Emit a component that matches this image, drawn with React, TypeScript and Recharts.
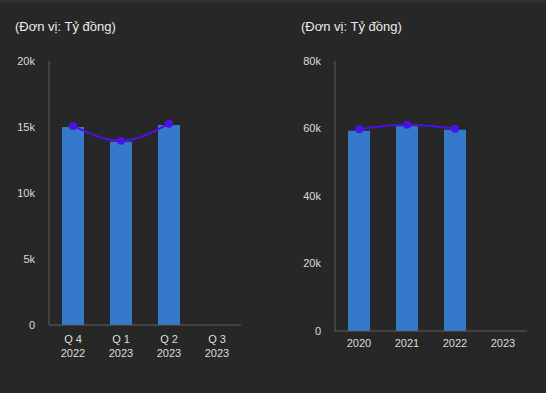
import { Bar, ComposedChart, Line, XAxis, YAxis } from 'recharts';

const quarters = ['Q 4 2022', 'Q 1 2023', 'Q 2 2023', 'Q 3 2023'];
const quarterBars = [15000, 13880, 15150, null];
const quarterLine = [15080, 13950, 15250, null];
const quarterTicks = [0, 5000, 10000, 15000, 20000];

const years = ['2020', '2021', '2022', '2023'];
const yearBars = [59300, 60700, 59600, null];
const yearLine = [59800, 61100, 59900, null];
const yearTicks = [0, 20000, 40000, 60000, 80000];

const unitTitle = '(Đơn vị: Tỷ đồng)';

const BAR = '#3579cd';
const LINE = '#4b12e3';
const AXIS = '#5f5f5f';
const TEXT = '#dcdcdc';
const FONT = '"Liberation Sans", Arial, sans-serif';

const quarterData = quarters.map((name, i) => ({ name, bar: quarterBars[i], line: quarterLine[i] }));
const yearData = years.map((name, i) => ({ name, bar: yearBars[i], line: yearLine[i] }));

const fmtK = (v: number) => (v === 0 ? '0' : `${v / 1000}k`);

// two-line quarter label: "Q 4" over "2022"
function QuarterTick({ x, y, payload }: any) {
    const parts = String(payload.value).split(' ');
    const year = parts.pop();
    return (
        <g>
            <text x={x} y={y + 10} textAnchor="middle" fill={TEXT} fontSize={11} fontFamily={FONT}>
                {parts.join(' ')}
            </text>
            <text x={x} y={y + 24} textAnchor="middle" fill={TEXT} fontSize={11} fontFamily={FONT}>
                {year}
            </text>
        </g>
    );
}

function Title({ left }: { left: number }) {
    return (
        <div
            style={{
                position: 'absolute',
                left,
                top: 19,
                fontSize: 13,
                lineHeight: '15px',
                color: '#ececec',
                fontFamily: FONT,
                whiteSpace: 'nowrap',
            }}
        >
            {unitTitle}
        </div>
    );
}

export default function App() {
    const tickStyle = { fill: TEXT, fontSize: 11, fontFamily: FONT };
    return (
        <div
            style={{
                position: 'fixed',
                left: 0,
                top: 0,
                width: 546,
                height: 393,
                background: '#272727',
                borderTop: '3px solid #2f2f2f',
                boxSizing: 'border-box',
                overflow: 'hidden',
            }}
        >
            <div style={{ position: 'absolute', left: 0, top: -3, width: 273, height: 393 }}>
                <Title left={15} />
                <ComposedChart
                    width={273}
                    height={393}
                    data={quarterData}
                    margin={{ top: 61, right: 32, bottom: 38, left: 9 }}
                >
                    <XAxis
                        dataKey="name"
                        height={30}
                        stroke={AXIS}
                        tickLine={false}
                        interval={0}
                        tick={<QuarterTick />}
                    />
                    <YAxis
                        width={40}
                        domain={[0, 20000]}
                        ticks={quarterTicks}
                        tickFormatter={fmtK}
                        stroke={AXIS}
                        tickLine={false}
                        tickMargin={8}
                        tick={tickStyle}
                    />
                    <Bar dataKey="bar" fill={BAR} barSize={22} isAnimationActive={false} />
                    <Line
                        type="monotone"
                        dataKey="line"
                        stroke={LINE}
                        strokeWidth={2}
                        dot={{ r: 4, fill: LINE, stroke: LINE, strokeWidth: 0 }}
                        activeDot={false}
                        isAnimationActive={false}
                    />
                </ComposedChart>
            </div>
            <div style={{ position: 'absolute', left: 273, top: -3, width: 273, height: 393 }}>
                <Title left={28} />
                <ComposedChart
                    width={273}
                    height={393}
                    data={yearData}
                    margin={{ top: 61, right: 19, bottom: 32, left: 22 }}
                >
                    <XAxis
                        dataKey="name"
                        height={30}
                        stroke={AXIS}
                        tickLine={false}
                        interval={0}
                        tick={tickStyle}
                    />
                    <YAxis
                        width={40}
                        domain={[0, 80000]}
                        ticks={yearTicks}
                        tickFormatter={fmtK}
                        stroke={AXIS}
                        tickLine={false}
                        tickMargin={8}
                        tick={tickStyle}
                    />
                    <Bar dataKey="bar" fill={BAR} barSize={22} isAnimationActive={false} />
                    <Line
                        type="monotone"
                        dataKey="line"
                        stroke={LINE}
                        strokeWidth={2}
                        dot={{ r: 4, fill: LINE, stroke: LINE, strokeWidth: 0 }}
                        activeDot={false}
                        isAnimationActive={false}
                    />
                </ComposedChart>
            </div>
        </div>
    );
}
